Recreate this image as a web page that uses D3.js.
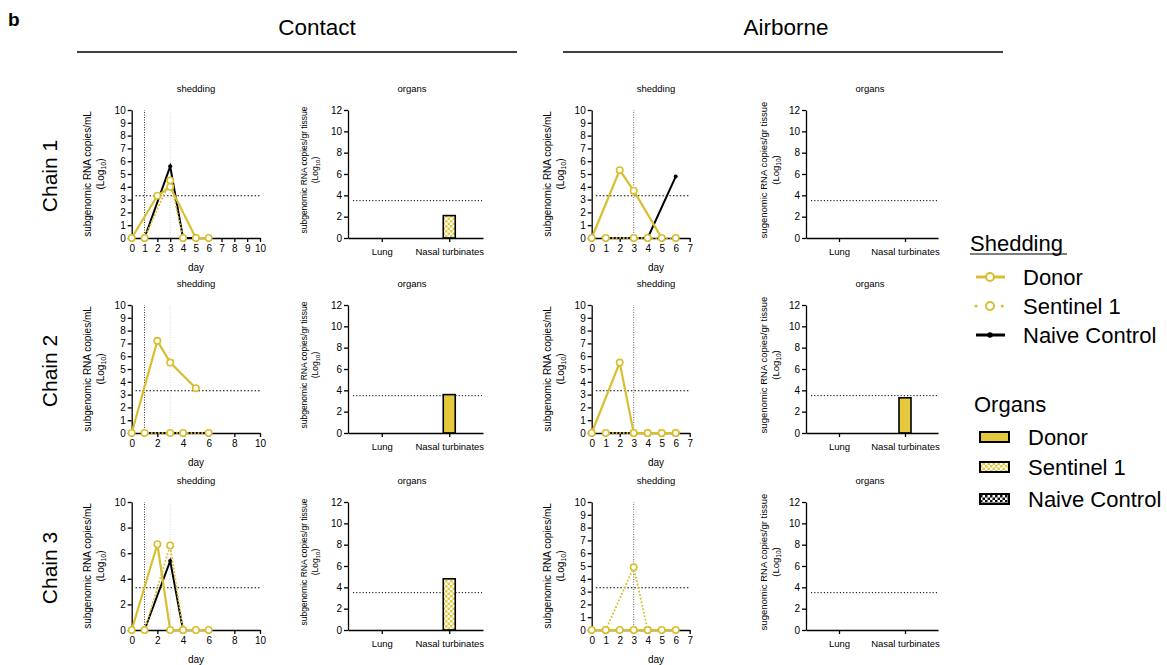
<!DOCTYPE html>
<html>
<head>
<meta charset="utf-8">
<script src="https://cdn.jsdelivr.net/npm/d3@7"></script>
<style>
  body { margin: 0; background: #fff; }
  svg { display: block; font-family: "Liberation Sans", Arial, sans-serif; }
</style>
</head>
<body>
<div id="chart"></div>
<script>
// ---- data ----
const days = [0, 1, 2, 3, 4, 5, 6];
const chains = ["Chain 1", "Chain 2", "Chain 3"];
const groups = ["Donor", "Sentinel 1", "Naive Control"];
const organs = ["Lung", "Nasal turbinates"];

// shedding, log10 sgRNA copies/mL per day (null = no sample), one row per chain
const contactDonor = [
  [0, null, 3.3, 4.0, null, 0, 0],
  [0, null, 7.2, 5.5, null, 3.5, null],
  [0, null, 6.7, 0, 0, 0, 0]
];
const contactSentinel = [
  [null, 0, null, 4.5, 0, null, null],
  [null, 0, null, 0, 0, null, 0],
  [null, 0, null, 6.6, 0, null, null]
];
const contactNaive = [
  [null, 0, null, 5.6, 0, 0, 0],
  [null, 0, null, 0, 0, null, 0],
  [null, 0, null, 5.4, 0, 0, 0]
];
const airborneDonor = [
  [0, null, 5.3, 3.7, null, 0, null],
  [0, null, 5.5, 0, 0, 0, 0],
  [0, 0, 0, 0, 0, 0, 0]
];
const airborneSentinel = [
  [null, 0, null, 0, 0, null, 0],
  [null, 0, null, 0, 0, 0, 0],
  [null, 0, null, 4.9, 0, null, null]
];
const airborneNaive = [
  [null, 0, null, 0, 0, null, 4.8],
  [null, 0, null, 0, 0, 0, 0],
  [null, 0, null, 0, 0, 0, 0]
];

// organs, log10 sgRNA copies/gr tissue: [Lung, Nasal turbinates] per chain
const contactOrganDonor    = [[null, null], [null, 3.6], [null, null]];
const contactOrganSentinel = [[null, 2.1], [null, null], [null, 4.8]];
const contactOrganNaive    = [[null, null], [null, null], [null, null]];
const airborneOrganDonor    = [[null, null], [null, 3.3], [null, null]];
const airborneOrganSentinel = [[null, null], [null, null], [null, null]];
const airborneOrganNaive    = [[null, null], [null, null], [null, null]];

const sheddingLimit = 3.3;
const organLimit = 3.5;

// ---- layout ----
const width = 1167, height = 665;
const gold = "#D9BE2F", goldFill = "#E3C93B";
const rowTop = [110, 305, 502];
const plotH = 128;

const svg = d3.select("#chart").append("svg")
  .attr("width", width).attr("height", height);

const defs = svg.append("defs");
function checker(id, c) {
  const p = defs.append("pattern").attr("id", id)
    .attr("width", 5).attr("height", 5).attr("patternUnits", "userSpaceOnUse");
  p.append("rect").attr("width", 5).attr("height", 5).attr("fill", "#fff");
  p.append("rect").attr("width", 2.5).attr("height", 2.5).attr("fill", c);
  p.append("rect").attr("x", 2.5).attr("y", 2.5).attr("width", 2.5).attr("height", 2.5).attr("fill", c);
}
checker("chkGold", goldFill);
checker("chkBlack", "#111");
const groupFill = { "Donor": goldFill, "Sentinel 1": "url(#chkGold)", "Naive Control": "url(#chkBlack)" };

function styleAxis(g, fs) {
  g.selectAll("path, line").attr("stroke", "#000").attr("stroke-width", 1.3);
  g.selectAll("text").attr("font-size", fs).attr("fill", "#000");
  g.attr("font-family", null);
}

function yLabel(cx, cy, fs, main) {
  const t = svg.append("g").attr("transform", `translate(${cx},${cy}) rotate(-90)`)
    .attr("font-size", fs).attr("text-anchor", "middle");
  t.append("text").attr("y", 0).text(main);
  const l = t.append("text").attr("y", fs * 1.25);
  l.append("tspan").text("(Log");
  l.append("tspan").attr("font-size", fs * 0.7).attr("dy", 2).text("10");
  l.append("tspan").attr("dy", -2).text(")");
}

function drawShedding(opt) {
  const top = rowTop[opt.row], bottom = top + plotH;
  const x = d3.scaleLinear().domain([0, opt.maxDay]).range([opt.x0, opt.x1]);
  const y = d3.scaleLinear().domain([0, 10]).range([bottom, top]);
  const g = svg.append("g");

  // reference lines
  opt.vlines.forEach(v => {
    g.append("line").attr("x1", x(v.day)).attr("x2", x(v.day)).attr("y1", y(0)).attr("y2", y(10))
      .attr("stroke", v.color).attr("stroke-width", 1).attr("stroke-dasharray", "1,1.5");
  });
  g.append("line").attr("x1", x(opt.limitFrom)).attr("x2", opt.x1)
    .attr("y1", y(sheddingLimit)).attr("y2", y(sheddingLimit))
    .attr("stroke", "#000").attr("stroke-width", 1).attr("stroke-dasharray", "1.5,2");

  const fmt = d3.format("d");
  g.append("g").attr("transform", `translate(0,${bottom})`)
    .call(d3.axisBottom(x).tickValues(d3.range(0, opt.maxDay + 0.1, opt.xStep)).tickFormat(fmt)
      .tickSize(4).tickSizeOuter(0))
    .call(a => styleAxis(a, 10));
  g.append("g").attr("transform", `translate(${opt.x0},0)`)
    .call(d3.axisLeft(y).tickValues(d3.range(0, 10.1, opt.yStep)).tickFormat(fmt)
      .tickSize(4).tickSizeOuter(0).tickPadding(2))
    .call(a => styleAxis(a, 10));

  const line = d3.line().x(d => x(d.day)).y(d => y(d.v));
  const pts = arr => days.map((d, i) => ({ day: d, v: arr[i] })).filter(d => d.v !== null);

  const naive = pts(opt.naive[opt.row]);
  g.append("path").attr("d", line(naive)).attr("fill", "none").attr("stroke", "#000").attr("stroke-width", 2);
  g.selectAll(".nd").data(naive).join("circle").attr("cx", d => x(d.day)).attr("cy", d => y(d.v))
    .attr("r", 2).attr("fill", "#000");

  const sent = pts(opt.sentinel[opt.row]);
  g.append("path").attr("d", line(sent)).attr("fill", "none").attr("stroke", gold)
    .attr("stroke-width", 2).attr("stroke-dasharray", "0.1,3.5").attr("stroke-linecap", "round");
  g.selectAll(".sd").data(sent).join("circle").attr("cx", d => x(d.day)).attr("cy", d => y(d.v))
    .attr("r", 3.2).attr("fill", "#fff").attr("stroke", gold).attr("stroke-width", 1.6);

  const donor = pts(opt.donor[opt.row]);
  g.append("path").attr("d", line(donor)).attr("fill", "none").attr("stroke", gold).attr("stroke-width", 2.2);
  g.selectAll(".dd").data(donor).join("circle").attr("cx", d => x(d.day)).attr("cy", d => y(d.v))
    .attr("r", 3.2).attr("fill", "#fff").attr("stroke", gold).attr("stroke-width", 1.6);

  svg.append("text").attr("x", opt.mid).attr("y", top - 18).attr("text-anchor", "middle")
    .attr("font-size", 9.5).text("shedding");
  svg.append("text").attr("x", opt.mid).attr("y", bottom + 33).attr("text-anchor", "middle")
    .attr("font-size", 10).text("day");
  yLabel(opt.labelX, (top + bottom) / 2, 10, "subgenomic RNA copies/mL");
}

function drawOrgans(opt) {
  const top = rowTop[opt.row], bottom = top + plotH;
  const x = d3.scalePoint().domain(organs).range([opt.x0, opt.x1]).padding(0.5);
  const y = d3.scaleLinear().domain([0, 12]).range([bottom, top]);
  const g = svg.append("g");

  g.append("line").attr("x1", opt.x0 + 5).attr("x2", opt.x1 - 1)
    .attr("y1", y(organLimit)).attr("y2", y(organLimit))
    .attr("stroke", "#000").attr("stroke-width", 1).attr("stroke-dasharray", "1.2,2");

  const bars = [];
  groups.forEach((grp, gi) => {
    opt.values[gi][opt.row].forEach((v, oi) => {
      if (v !== null) bars.push({ organ: organs[oi], group: grp, v });
    });
  });
  g.selectAll(".bar").data(bars).join("rect")
    .attr("x", d => x(d.organ) - 6).attr("width", 12)
    .attr("y", d => y(d.v)).attr("height", d => y(0) - y(d.v))
    .attr("fill", d => groupFill[d.group]).attr("stroke", "#000").attr("stroke-width", 1.6);

  g.append("g").attr("transform", `translate(0,${bottom})`)
    .call(d3.axisBottom(x).tickSize(4).tickSizeOuter(0).tickPadding(6))
    .call(a => styleAxis(a, 9.5));
  g.append("g").attr("transform", `translate(${opt.x0},0)`)
    .call(d3.axisLeft(y).tickValues(d3.range(0, 12.1, 2)).tickSize(4).tickSizeOuter(0).tickPadding(2))
    .call(a => styleAxis(a, 10));

  svg.append("text").attr("x", opt.mid).attr("y", top - 18).attr("text-anchor", "middle")
    .attr("font-size", 9.5).text("organs");
  yLabel(opt.labelX, (top + bottom) / 2 - 4, opt.labelSize, opt.label);
}

// ---- headings ----
svg.append("text").attr("x", 8).attr("y", 26).attr("font-size", 19).attr("font-weight", "bold").text("b");
[{ t: "Contact", cx: 317, x0: 77, x1: 517 }, { t: "Airborne", cx: 786, x0: 563, x1: 1003 }].forEach(h => {
  svg.append("text").attr("x", h.cx).attr("y", 35).attr("text-anchor", "middle").attr("font-size", 22.5).text(h.t);
  svg.append("line").attr("x1", h.x0).attr("x2", h.x1).attr("y1", 52).attr("y2", 52)
    .attr("stroke", "#000").attr("stroke-width", 1.5);
});

chains.forEach((c, r) => {
  svg.append("text").attr("transform", `translate(57,${rowTop[r] + plotH / 2 + 2}) rotate(-90)`)
    .attr("text-anchor", "middle").attr("font-size", 21).text(c);

  drawShedding({
    row: r, x0: 131.7, x1: 260, maxDay: 10, xStep: r === 0 ? 1 : 2, yStep: r === 2 ? 2 : 1,
    mid: 196, labelX: 91, limitFrom: 0.3,
    vlines: [{ day: 3, color: "#d6d6d6" }, { day: 1, color: "#333" }],
    donor: contactDonor, sentinel: contactSentinel, naive: contactNaive
  });
  drawOrgans({
    row: r, x0: 348, x1: 483, mid: 412, labelX: 307, labelSize: 8.5,
    label: "subgenomic RNA copies/gr tissue",
    values: [contactOrganDonor, contactOrganSentinel, contactOrganNaive]
  });
  drawShedding({
    row: r, x0: 591.7, x1: 689.7, maxDay: 7, xStep: 1, yStep: 1,
    mid: 656, labelX: 551, limitFrom: 0.3,
    vlines: [{ day: 3, color: "#666" }],
    donor: airborneDonor, sentinel: airborneSentinel, naive: airborneNaive
  });
  drawOrgans({
    row: r, x0: 806, x1: 938, mid: 870, labelX: 767, labelSize: 9.5,
    label: "sugenomic RNA copies/gr tissue",
    values: [airborneOrganDonor, airborneOrganSentinel, airborneOrganNaive]
  });
});

// ---- legend ----
const leg = svg.append("g").attr("font-size", 22);
leg.append("text").attr("x", 970).attr("y", 251).text("Shedding");
leg.append("line").attr("x1", 970).attr("x2", 1067).attr("y1", 254).attr("y2", 254)
  .attr("stroke", "#000").attr("stroke-width", 1.2);
const lineKeys = [
  { name: groups[0], y: 277, stroke: gold, dash: null, open: true },
  { name: groups[1], y: 306, stroke: gold, dash: "0.1,13", open: true },
  { name: groups[2], y: 335, stroke: "#000", dash: null, open: false }
];
lineKeys.forEach(k => {
  leg.append("line").attr("x1", 976).attr("x2", 1005).attr("y1", k.y).attr("y2", k.y)
    .attr("stroke", k.stroke).attr("stroke-width", 3).attr("stroke-linecap", k.dash ? "round" : "butt")
    .attr("stroke-dasharray", k.dash);
  if (k.open) leg.append("circle").attr("cx", 990).attr("cy", k.y).attr("r", 4)
    .attr("fill", "#fff").attr("stroke", gold).attr("stroke-width", 2);
  else leg.append("circle").attr("cx", 990).attr("cy", k.y).attr("r", 2.8).attr("fill", "#000");
  leg.append("text").attr("x", 1023).attr("y", k.y + 8).text(k.name);
});
leg.append("text").attr("x", 974).attr("y", 412).text("Organs");
[437, 467, 499].forEach((yy, i) => {
  leg.append("rect").attr("x", 980).attr("y", yy - 5).attr("width", 29).attr("height", 10)
    .attr("fill", groupFill[groups[i]]).attr("stroke", "#000").attr("stroke-width", 2);
  leg.append("text").attr("x", 1028).attr("y", yy + 8).text(groups[i]);
});
</script>
</body>
</html>
